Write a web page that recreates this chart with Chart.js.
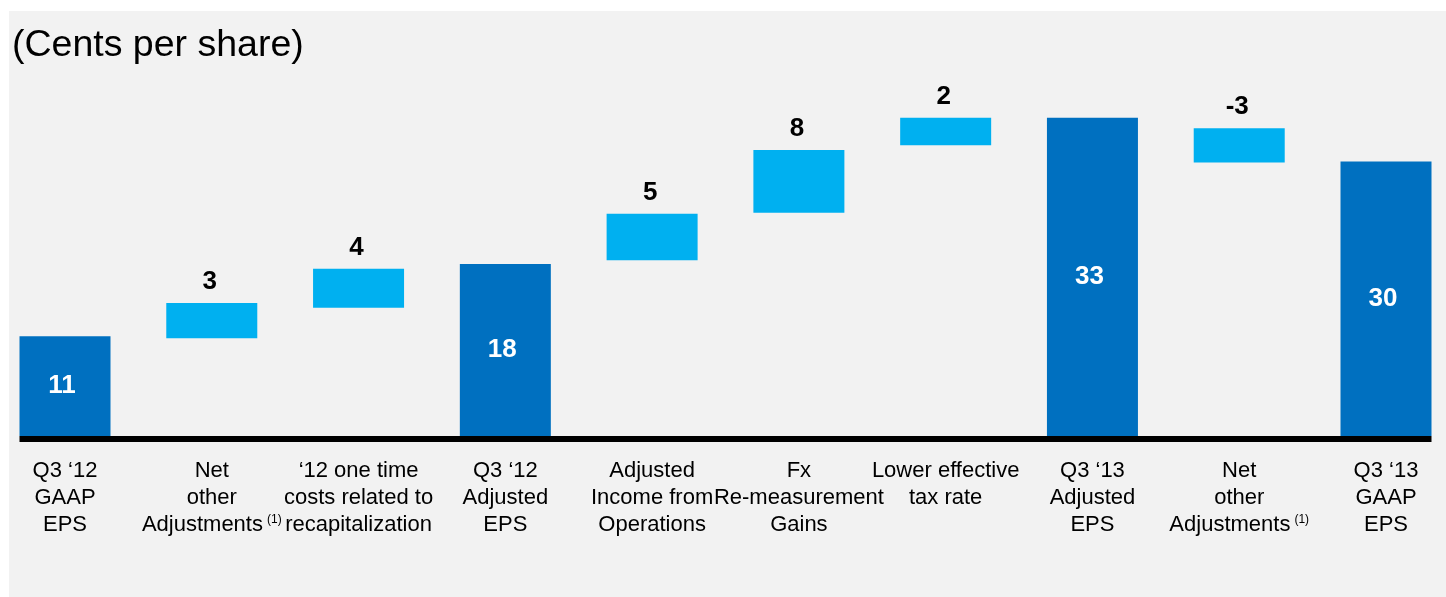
<!DOCTYPE html>
<html>
<head>
<meta charset="utf-8">
<script src="https://cdn.jsdelivr.net/npm/chart.js@4.4.1/dist/chart.umd.min.js"></script>
<style>
    html, body { margin: 0; padding: 0; background: #ffffff; }
    #wrap { position: relative; width: 1446px; height: 597px; }
    #title {
        position: absolute; left: 12px; top: 25px;
        font-family: "Liberation Sans", Arial, sans-serif;
        font-size: 37.5px; line-height: 1; color: #000000;
    }
</style>
</head>
<body>
<div id="wrap">
    <canvas id="epsChart" width="1446" height="597"></canvas>
    <div id="title">(Cents per share)</div>
</div>
<script>
// Categories (multi-line labels)
const categories = [
    ['Q3 \u201812', 'GAAP', 'EPS'],
    ['Net', 'other', 'Adjustments'],
    ['\u201812 one time', 'costs related to', 'recapitalization'],
    ['Q3 \u201812', 'Adjusted', 'EPS'],
    ['Adjusted', 'Income from', 'Operations'],
    ['Fx', 'Re-measurement', 'Gains'],
    ['Lower effective', 'tax rate'],
    ['Q3 \u201813', 'Adjusted', 'EPS'],
    ['Net', 'other', 'Adjustments'],
    ['Q3 \u201813', 'GAAP', 'EPS']
];

// Footnote marker on the last line of a label ('' = none)
const footnotes = ['', '(1)', '', '', '', '', '', '', '(1)', ''];

// Printed values
const shownValues = [11, 3, 4, 18, 5, 8, 2, 33, -3, 30];

// Bar start / end as drawn (cents)
const barStart = [0, 10.3, 13.5, 0, 18.5, 23.5, 30.6, 0, 32.4, 0];
const barEnd = [10.5, 14.0, 17.6, 18.1, 23.4, 30.1, 33.5, 33.5, 28.8, 28.9];

// Which bars are totals (dark) vs steps (light)
const isTotal = [true, false, false, true, false, false, false, true, false, true];

const darkBlue = '#0070C0';
const lightBlue = '#00B0F0';
const fontFamily = '"Liberation Sans", Arial, sans-serif';

// Grey panel behind the chart
const panelPlugin = {
    id: 'panel',
    beforeDraw(chart) {
        const ctx = chart.ctx;
        ctx.save();
        ctx.fillStyle = '#f2f2f2';
        ctx.fillRect(9, 11, chart.width - 9, chart.height - 11);
        ctx.restore();
    }
};

// Thick black baseline, value labels and category labels
const labelPlugin = {
    id: 'valueLabels',
    afterDatasetsDraw(chart) {
        const ctx = chart.ctx;
        const bars = chart.getDatasetMeta(0).data;
        const xScale = chart.scales.x;
        const y0 = chart.scales.y.getPixelForValue(0);

        // baseline from first bar edge to last bar edge
        const first = bars[0];
        const last = bars[bars.length - 1];
        const lineLeft = first.x - first.width / 2;
        const lineRight = last.x + last.width / 2;
        ctx.save();
        ctx.fillStyle = '#000000';
        ctx.fillRect(lineLeft, y0, lineRight - lineLeft, 6);

        // values
        ctx.textAlign = 'center';
        ctx.textBaseline = 'middle';
        ctx.font = 'bold 26px ' + fontFamily;
        bars.forEach((bar, i) => {
            const top = Math.min(bar.y, bar.base);
            const bottom = Math.max(bar.y, bar.base);
            if (isTotal[i]) {
                ctx.fillStyle = '#ffffff';
                ctx.fillText(String(shownValues[i]), bar.x - 3, (top + bottom) / 2);
            } else {
                ctx.fillStyle = '#000000';
                ctx.fillText(String(shownValues[i]), bar.x - 2, top - 21);
            }
        });

        // category labels under the axis
        ctx.fillStyle = '#000000';
        ctx.textBaseline = 'alphabetic';
        const lineGap = 27;
        const firstBaseline = y0 + 41;
        categories.forEach((lines, i) => {
            const cx = xScale.getPixelForValue(i);
            lines.forEach((text, k) => {
                const by = firstBaseline + k * lineGap;
                const note = (k === lines.length - 1) ? footnotes[i] : '';
                ctx.font = '22px ' + fontFamily;
                const w = ctx.measureText(text).width;
                if (!note) {
                    ctx.textAlign = 'center';
                    ctx.fillText(text, cx, by);
                    return;
                }
                ctx.font = '12px ' + fontFamily;
                const nw = ctx.measureText(note).width;
                const gap = 4;
                const startX = cx - (w + gap + nw) / 2;
                ctx.textAlign = 'left';
                ctx.font = '22px ' + fontFamily;
                ctx.fillText(text, startX, by);
                ctx.font = '12px ' + fontFamily;
                ctx.fillText(note, startX + w + gap, by - 8);
            });
        });
        ctx.restore();
    }
};

const ctx = document.getElementById('epsChart').getContext('2d');
new Chart(ctx, {
    type: 'bar',
    data: {
        labels: categories.map(l => l.join(' ')),
        datasets: [{
            data: barStart.map((s, i) => [s, barEnd[i]]),
            backgroundColor: isTotal.map(t => (t ? darkBlue : lightBlue)),
            borderWidth: 0,
            barPercentage: 1,
            categoryPercentage: 0.62,
            clip: false
        }]
    },
    options: {
        responsive: false,
        animation: false,
        layout: {
            padding: { left: 65, right: 60, top: 56, bottom: 161 }
        },
        plugins: {
            legend: { display: false },
            tooltip: { enabled: false },
            title: { display: false }
        },
        scales: {
            x: {
                display: false,
                offset: false
            },
            y: {
                display: false,
                min: 0,
                max: 40
            }
        }
    },
    plugins: [panelPlugin, labelPlugin]
});
</script>
</body>
</html>
